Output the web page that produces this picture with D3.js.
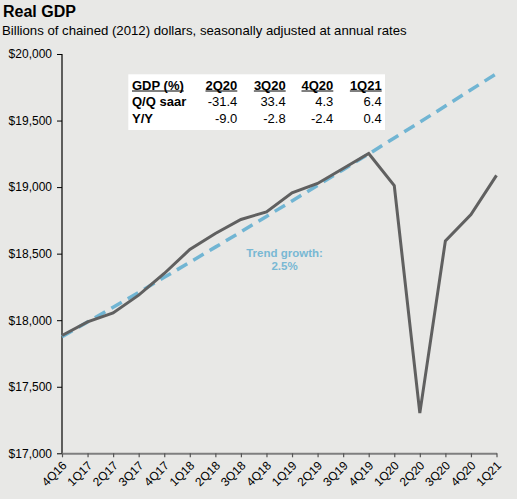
<!DOCTYPE html>
<html><head><meta charset="utf-8">
<script src="https://cdn.jsdelivr.net/npm/d3@7"></script>
<style>
html,body{margin:0;padding:0;background:#e8e8e6;}
svg{display:block;font-family:"Liberation Sans",Arial,sans-serif;}
</style></head>
<body>
<script>
const quarters = ["4Q16","1Q17","2Q17","3Q17","4Q17","1Q18","2Q18","3Q18","4Q18","1Q19","2Q19","3Q19","4Q19","1Q20","2Q20","3Q20","4Q20","1Q21"];
const gdp = [17885,17987,18055,18188,18351,18531,18652,18757,18814,18957,19027,19140,19252,19011,17302,18596,18794,19088];
const trend = [17875,17986,18097,18209,18322,18435,18549,18664,18780,18896,19013,19131,19249,19369,19488,19609,19731,19853];
const yTicks = [17000,17500,18000,18500,19000,19500,20000];
const tableHeader = ["GDP (%)","2Q20","3Q20","4Q20","1Q21"];
const tableRows = [
  {label:"Q/Q saar", values:[-31.4,33.4,4.3,6.4]},
  {label:"Y/Y", values:[-9.0,-2.8,-2.4,0.4]}
];

const W=517,H=499;
const svg=d3.select("body").append("svg").attr("width",W).attr("height",H);
svg.append("rect").attr("width",W).attr("height",H).attr("fill","#e8e8e6");

const x=d3.scalePoint().domain(quarters).range([62,496.5]);
const y=d3.scaleLinear().domain([17000,20000]).range([453.3,54]);

// title
svg.append("text").attr("x",3).attr("y",17).attr("font-size",16).attr("font-weight","bold").attr("fill","#000").text("Real GDP");
svg.append("text").attr("x",2).attr("y",35).attr("font-size",13.2).attr("fill","#000").text("Billions of chained (2012) dollars, seasonally adjusted at annual rates");

// y axis
const ya=svg.append("g").attr("transform","translate(62,0)")
  .call(d3.axisLeft(y).tickValues(yTicks).tickSize(5).tickPadding(5).tickFormat(d=>"$"+d3.format(",")(d)));
ya.select(".domain").attr("stroke","#000").attr("stroke-width",1.2).attr("d","M0,"+y(20000)+"V"+y(17000));
ya.selectAll(".tick line").attr("stroke","#000");
ya.selectAll(".tick text").attr("font-size",12).attr("fill","#000").attr("font-family","Liberation Sans, Arial, sans-serif");

// x axis
const xa=svg.append("g").attr("transform","translate(0,"+y(17000)+")")
  .call(d3.axisBottom(x).tickSize(4).tickSizeOuter(0));
xa.select(".domain").attr("stroke","#7f7f7f").attr("stroke-width",2);
xa.selectAll(".tick line").attr("stroke","#555").attr("stroke-width",1.2);
xa.selectAll(".tick text").attr("font-size",12).attr("fill","#000")
  .attr("font-family","Liberation Sans, Arial, sans-serif")
  .attr("text-anchor","end").attr("dy",null)
  .attr("transform","translate(5,13) rotate(-45)").attr("y",0).attr("x",0);

// trend line
const line=d3.line().x((d,i)=>x(quarters[i])).y(d=>y(d));
svg.append("path").datum(trend).attr("d",line).attr("fill","none")
  .attr("stroke","#71b5d3").attr("stroke-width",3.5).attr("stroke-dasharray","12,7");
// gdp line
svg.append("path").datum(gdp).attr("d",line).attr("fill","none")
  .attr("stroke","#606060").attr("stroke-width",3).attr("stroke-linejoin","miter");

// trend label
const tl=svg.append("text").attr("font-size",11.5).attr("font-weight","bold").attr("fill","#78b8d4").attr("text-anchor","middle");
tl.append("tspan").attr("x",284.5).attr("y",256.8).text("Trend growth:");
tl.append("tspan").attr("x",284.5).attr("y",269.5).text("2.5%");

// table
const tb=svg.append("g");
tb.append("rect").attr("x",128.3).attr("y",74.3).attr("width",256.7).attr("height",55.7).attr("fill","#fff");
const colRight=[237.3,285.7,333.3,381.7];
const rowY=[89.5,105.8,122.5];
const hdr=[];
hdr.push(tb.append("text").attr("x",132).attr("y",rowY[0]).attr("font-size",13).attr("font-weight","bold").text(tableHeader[0]));
tableHeader.slice(1).forEach((h,i)=>{
  hdr.push(tb.append("text").attr("x",colRight[i]).attr("y",rowY[0]).attr("text-anchor","end").attr("font-size",13).attr("font-weight","bold").text(h));
});
hdr.forEach(t=>{
  const b=t.node().getBBox();
  tb.append("line").attr("x1",b.x).attr("x2",b.x+b.width).attr("y1",rowY[0]+1.5).attr("y2",rowY[0]+1.5).attr("stroke","#000").attr("stroke-width",1);
});
tableRows.forEach((r,j)=>{
  tb.append("text").attr("x",132).attr("y",rowY[j+1]).attr("font-size",13).attr("font-weight","bold").text(r.label);
  r.values.forEach((v,i)=>{
    tb.append("text").attr("x",colRight[i]).attr("y",rowY[j+1]).attr("text-anchor","end").attr("font-size",13).text(d3.format(".1f")(v).replace("−","-"));
  });
});
</script>
</body></html>
